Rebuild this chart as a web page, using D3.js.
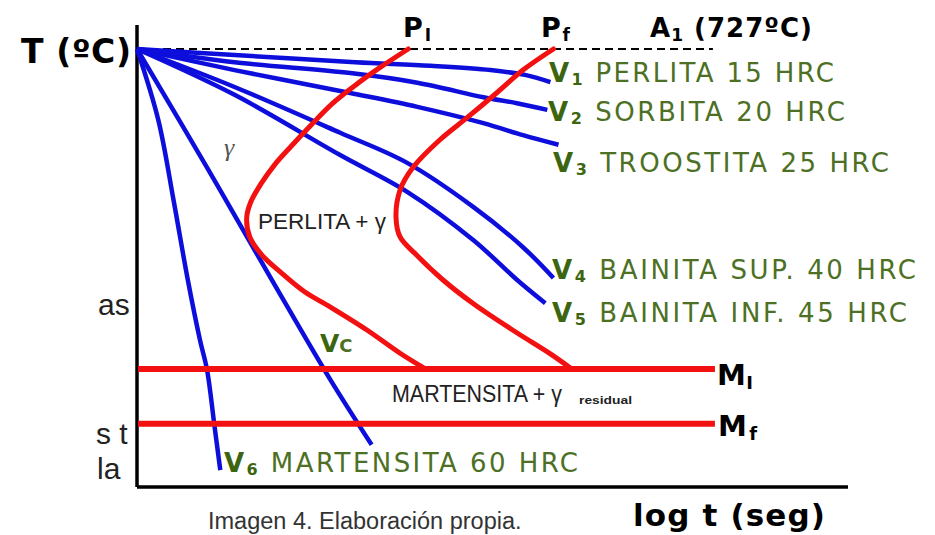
<!DOCTYPE html>
<html>
<head>
<meta charset="utf-8">
<script src="https://cdn.jsdelivr.net/npm/d3@7"></script>
<style>
  html, body { margin: 0; padding: 0; background: #fff; }
  svg { display: block; }
</style>
</head>
<body>
<svg id="chart" width="935" height="535"></svg>
<script>
// ---------------- DATA (x = log t in decades, y = temperature in ºC) ----------------
const A1_TEMP = 727;
const MI_TEMP = 196;   // Mi (start of martensite)
const MF_TEMP = 105;   // Mf (end of martensite)
const LINE_END_LOGT = 5.69;
const A1_END_LOGT = 5.67;

// cooling curves
const v1 = [[0,727],[0.96,717],[2.15,705],[2.89,699],[3.48,692],[3.82,684],[4.07,672]];
const v2 = [[0,727],[0.96,705],[2.10,687],[2.76,671],[3.41,647],[3.74,637],[4.04,626]];
const v3 = [[0,727],[0.96,692],[2.10,654],[2.76,631],[3.41,604],[3.80,584],[4.15,568]];
const v4 = [[0,727],[0.96,664],[2.00,588],[2.66,538],[3.31,465],[3.80,398],[4.10,347]];
const v5 = [[0,727],[0.96,651],[2.00,551],[2.66,490],[3.31,410],[3.74,344],[4.02,305]];
const vc = [[0,727],[0.69,530],[1.34,340],[1.90,179],[2.31,70]];
const v6 = [[0,727],[0.21,609],[0.36,476],[0.50,344],[0.62,244],[0.69,194],[0.76,105],[0.82,28]];

// transformation start / finish curves
const pStart = [[2.67,727],[2.39,696],[2.15,667],[1.92,636],[1.71,600],[1.52,566],[1.36,536],[1.22,503],
                [1.12,473],[1.08,447],[1.11,415],[1.23,385],[1.41,357],[1.65,324],[1.90,299],[2.26,261],
                [2.59,222],[2.84,196]];
const pFinish = [[4.10,727],[3.80,692],[3.54,654],[3.25,613],[2.98,576],[2.72,531],[2.59,493],[2.55,448],
                 [2.59,415],[2.74,387],[3.01,344],[3.33,302],[3.74,256],[4.07,221],[4.28,196]];

// label texts
const curveSubs   = ["1","2","3","4","5","6"];
const curveTexts  = [" PERLITA 15 HRC"," SORBITA 20 HRC"," TROOSTITA 25 HRC",
                     " BAINITA SUP. 40 HRC"," BAINITA INF. 45 HRC"," MARTENSITA 60 HRC"];

// ---------------- LAYOUT ----------------
const svg = d3.select("#chart");
const x = d3.scaleLinear().domain([0, 7]).range([137, 848]);
const y = d3.scaleLinear().domain([0, 727]).range([487, 49]);

const BLUE = "#0e0edc", RED = "#f21010", GREEN = "#4d7024";

const line = d3.line().x(d => x(d[0])).y(d => y(d[1])).curve(d3.curveCatmullRom.alpha(0.5));

// axes
svg.append("line").attr("x1", x(0)).attr("x2", x(0)).attr("y1", y(767)).attr("y2", y(0))
   .attr("stroke", "#000").attr("stroke-width", 3.5);
svg.append("line").attr("x1", x(0)).attr("x2", x(7)).attr("y1", y(0)).attr("y2", y(0))
   .attr("stroke", "#000").attr("stroke-width", 3.5);

// A1 dashed line
svg.append("line").attr("x1", x(0)).attr("x2", x(A1_END_LOGT)).attr("y1", y(A1_TEMP)).attr("y2", y(A1_TEMP))
   .attr("stroke", "#000").attr("stroke-width", 2).attr("stroke-dasharray", "8,5");

// cooling curves
[v1, v2, v3, v4, v5, vc, v6].forEach(c => {
  svg.append("path").attr("d", line(c)).attr("fill", "none")
     .attr("stroke", BLUE).attr("stroke-width", 4.5).attr("stroke-linecap", "butt");
});

// transformation curves
[pStart, pFinish].forEach(c => {
  svg.append("path").attr("d", line(c)).attr("fill", "none")
     .attr("stroke", RED).attr("stroke-width", 5).attr("stroke-linecap", "round");
});

// Mi / Mf lines
[MI_TEMP, MF_TEMP].forEach(t => {
  svg.append("line").attr("x1", x(0) + 1).attr("x2", x(LINE_END_LOGT)).attr("y1", y(t)).attr("y2", y(t))
     .attr("stroke", RED).attr("stroke-width", 6);
});

// ---------------- TEXT ----------------
const bold = "'DejaVu Sans', Verdana, sans-serif";
const arial = "'Liberation Sans', Arial, sans-serif";

// green curve labels
const curveLabelPos = [
  {x: 549, y: 82,  w: 285},
  {x: 548, y: 121, w: 297},
  {x: 553, y: 172, w: 336},
  {x: 552, y: 279, w: 364},
  {x: 552, y: 322, w: 355},
  {x: 224, y: 472, w: 354}
];
curveSubs.forEach((s, i) => {
  const p = curveLabelPos[i];
  const t = svg.append("text").attr("x", p.x).attr("y", p.y)
     .attr("font-family", bold).attr("font-size", 26).attr("fill", GREEN)
     .attr("textLength", p.w).attr("lengthAdjust", "spacing");
  t.append("tspan").attr("font-weight", "bold").attr("fill", "#3d6510").text("V");
  t.append("tspan").attr("font-weight", "bold").attr("font-size", 16).attr("dy", 3).attr("fill", "#3d6510").text(s);
  t.append("tspan").attr("dy", -3).text(curveTexts[i]);
});
// Vc label
const vcl = svg.append("text").attr("x", 320).attr("y", 352).attr("font-family", bold)
   .attr("font-size", 25).attr("fill", "#3d6510").attr("font-weight", "bold");
vcl.append("tspan").text("V");
vcl.append("tspan").attr("font-size", 18).attr("fill", GREEN).text("C");

// top labels
function subLabel(xp, yp, main, sub, size, subSize, rest, width) {
  const t = svg.append("text").attr("x", xp).attr("y", yp).attr("font-family", bold)
     .attr("font-weight", "bold").attr("font-size", size).attr("fill", "#000");
  if (width) t.attr("textLength", width).attr("lengthAdjust", "spacing");
  t.append("tspan").text(main);
  t.append("tspan").attr("font-size", subSize).attr("dy", 4).text(sub);
  if (rest) t.append("tspan").attr("dy", -4).text(rest);
  return t;
}
subLabel(403, 37, "P", "I", 27, 17, null, 28);
subLabel(541, 37, "P", "f", 27, 17, null, 29);
subLabel(650, 37, "A", "1", 26, 17, " (727ºC)", 162);
subLabel(717, 385, "M", "I", 29, 18, null, 36);
subLabel(718, 436, "M", "f", 29, 18, null, 39);

svg.append("text").attr("x", 21).attr("y", 63).attr("font-family", bold).attr("font-weight", "bold")
   .attr("font-size", 33).attr("textLength", 110).attr("lengthAdjust", "spacing").text("T (ºC)");
svg.append("text").attr("x", 633).attr("y", 526).attr("font-family", bold).attr("font-weight", "bold")
   .attr("font-size", 31).attr("textLength", 192).attr("lengthAdjust", "spacing").text("log t (seg)");

// phase region labels
svg.append("text").attr("x", 224).attr("y", 156).attr("font-family", "'Liberation Serif', serif")
   .attr("font-style", "italic").attr("font-size", 26).attr("fill", "#555").text("γ");
svg.append("text").attr("x", 258).attr("y", 229).attr("font-family", arial)
   .attr("font-size", 22).attr("fill", "#222").attr("textLength", 128).attr("lengthAdjust", "spacingAndGlyphs")
   .text("PERLITA + γ");
svg.append("text").attr("x", 392).attr("y", 402).attr("font-family", arial)
   .attr("font-size", 24).attr("fill", "#222").attr("textLength", 170).attr("lengthAdjust", "spacingAndGlyphs")
   .text("MARTENSITA + γ");
svg.append("text").attr("x", 579).attr("y", 404).attr("font-family", arial).attr("font-weight", "bold")
   .attr("font-size", 11).attr("fill", "#222").attr("textLength", 53).attr("lengthAdjust", "spacingAndGlyphs")
   .text("residual");

// caption and surrounding document fragments
svg.append("text").attr("x", 208).attr("y", 529).attr("font-family", arial)
   .attr("font-size", 23.5).attr("fill", "#333").text("Imagen 4. Elaboración propia.");
[["as", 98, 315], ["s t", 96, 444], ["la", 97, 479]].forEach(f => {
  svg.append("text").attr("x", f[1]).attr("y", f[2]).attr("font-family", arial)
     .attr("font-size", 30).attr("fill", "#222").text(f[0]);
});
</script>
</body>
</html>
